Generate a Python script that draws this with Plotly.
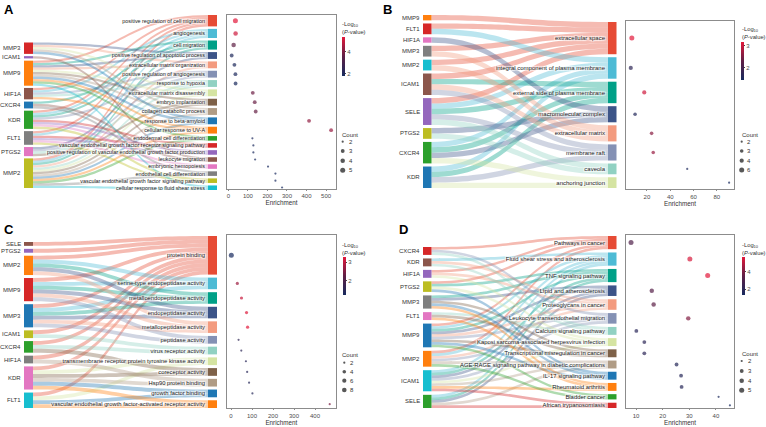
import math
import plotly.graph_objects as go

W, H = 766, 427
FONT = "Liberation Sans, Arial, sans-serif"

TERM_COLORS = ["#E64B35", "#4DBBD5", "#00A087", "#3C5488", "#F39B7F", "#8491B4", "#91D1C2",
               "#D5E4A2", "#7E6148", "#B09C85", "#1F77B4", "#FF7F0E", "#2CA02C", "#D62728",
               "#9467BD", "#8C564B", "#E377C2", "#7F7F7F", "#BCBD22", "#17BECF"]
COLORSCALE = [[0, "#172a5e"], [0.5, "#5e1f45"], [1, "#e3183b"]]

# ---------------- Panel A (GO biological process) ----------------
A_genes = ["MMP3", "ICAM1", "MMP9", "HIF1A", "CXCR4", "KDR", "FLT1", "PTGS2", "MMP2"]
A_gene_colors = ["#D62728", "#9467BD", "#FF7F0E", "#8C564B", "#1F77B4", "#2CA02C", "#7F7F7F", "#E377C2", "#BCBD22"]
A_terms = ["positive regulation of cell migration", "angiogenesis", "cell migration",
           "positive regulation of apoptotic process", "extracellular matrix organization",
           "positive regulation of angiogenesis", "response to hypoxia",
           "extracellular matrix disassembly", "embryo implantation", "collagen catabolic process",
           "response to beta-amyloid", "cellular response to UV-A", "endodermal cell differentiation",
           "vascular endothelial growth factor receptor signaling pathway",
           "positive regulation of vascular endothelial growth factor production",
           "leukocyte migration", "embryonic hemopoiesis", "endothelial cell differentiation",
           "vascular endothelial growth factor signaling pathway",
           "cellular response to fluid shear stress"]
A_members = [["MMP9", "HIF1A", "KDR", "FLT1", "MMP2"], ["HIF1A", "KDR", "FLT1", "MMP2"],
             ["MMP9", "CXCR4", "KDR", "MMP2"], ["MMP3", "MMP9", "PTGS2"], ["MMP3", "MMP9", "MMP2"],
             ["HIF1A", "KDR", "PTGS2"], ["HIF1A", "PTGS2", "MMP2"], ["MMP3", "MMP9", "MMP2"],
             ["MMP9", "PTGS2", "MMP2"], ["MMP3", "MMP9", "MMP2"], ["MMP3", "MMP9", "MMP2"],
             ["HIF1A", "MMP9", "MMP2"], ["MMP9", "MMP2"], ["KDR", "FLT1"], ["KDR", "FLT1"],
             ["ICAM1", "CXCR4"], ["KDR", "FLT1"], ["CXCR4", "MMP2"], ["KDR", "FLT1"], ["MMP9", "MMP2"]]
A_enrich = [36, 37, 27, 17, 31, 36, 37, 125, 135, 140, 413, 526, 123, 128, 128, 137, 203, 241, 241, 275]
A_logp = [5.4, 5.1, 3.6, 2.05, 2.0, 1.95, 1.9, 3.8, 3.75, 3.7, 4.3, 4.4, 1.95, 1.9, 1.9, 1.9, 1.85, 1.85, 1.85, 1.82]
A_ticks = [0, 100, 200, 300, 400, 500]
A_cticks = [2, 4]
A_legend = [2, 3, 4, 5]

# ---------------- Panel B (GO cellular component) ----------------
B_genes = ["MMP9", "FLT1", "HIF1A", "MMP3", "MMP2", "ICAM1", "SELE", "PTGS2", "CXCR4", "KDR"]
B_gene_colors = ["#FF7F0E", "#D62728", "#E377C2", "#7F7F7F", "#17BECF", "#8C564B", "#9467BD", "#BCBD22", "#2CA02C", "#1F77B4"]
B_terms = ["extracellular space", "integral component of plasma membrane",
           "external side of plasma membrane", "macromolecular complex", "extracellular matrix",
           "membrane raft", "caveola", "anchoring junction"]
B_members = [["MMP9", "FLT1", "MMP3", "MMP2", "ICAM1", "SELE"], ["FLT1", "SELE", "CXCR4", "KDR"],
             ["ICAM1", "SELE", "CXCR4", "KDR"], ["HIF1A", "PTGS2", "CXCR4"], ["MMP3", "MMP2", "ICAM1"],
             ["ICAM1", "SELE", "KDR"], ["SELE", "PTGS2"], ["CXCR4", "KDR"]]
B_enrich = [7, 6.1, 17.7, 9.8, 24, 25.4, 54.6, 90.6]
B_logp = [3.18, 1.75, 3.05, 1.6, 2.6, 2.7, 1.55, 1.47]
B_ticks = [20, 40, 60, 80]
B_cticks = [2, 3]
B_legend = [2, 3, 4, 6]

# ---------------- Panel C (GO molecular function) ----------------
C_genes = ["SELE", "PTGS2", "MMP2", "MMP9", "MMP3", "ICAM1", "CXCR4", "HIF1A", "KDR", "FLT1"]
C_gene_colors = ["#8C564B", "#9467BD", "#FF7F0E", "#D62728", "#1F77B4", "#BCBD22", "#2CA02C", "#7F7F7F", "#E377C2", "#17BECF"]
C_terms = ["protein binding", "serine-type endopeptidase activity", "metalloendopeptidase activity",
           "endopeptidase activity", "metallopeptidase activity", "peptidase activity",
           "virus receptor activity", "transmembrane receptor protein tyrosine kinase activity",
           "coreceptor activity", "Hsp90 protein binding", "growth factor binding",
           "vascular endothelial growth factor-activated receptor activity"]
C_members = [["SELE", "PTGS2", "MMP2", "MMP9", "MMP3", "ICAM1", "CXCR4", "HIF1A", "KDR", "FLT1"],
             ["MMP2", "MMP9", "MMP3"], ["MMP2", "MMP9", "MMP3"], ["MMP2", "MMP9", "MMP3"],
             ["MMP2", "MMP9", "MMP3"], ["MMP9", "MMP3"], ["ICAM1", "CXCR4"], ["KDR", "FLT1"],
             ["CXCR4", "KDR"], ["HIF1A", "KDR"], ["KDR", "FLT1"], ["KDR", "FLT1"]]
C_enrich = [1.5, 30, 50, 74, 79, 36, 49, 71, 77, 86, 102, 470]
C_logp = [1.25, 2.75, 3.1, 3.25, 3.3, 1.6, 1.55, 1.5, 1.5, 1.45, 1.45, 2.5]
C_ticks = [0, 100, 200, 300, 400]
C_cticks = [2, 3]
C_legend = [2, 4, 6, 8]

# ---------------- Panel D (KEGG) ----------------
D_genes = ["CXCR4", "KDR", "HIF1A", "PTGS2", "MMP3", "FLT1", "MMP9", "MMP2", "ICAM1", "SELE"]
D_gene_colors = ["#D62728", "#8C564B", "#9467BD", "#BCBD22", "#7F7F7F", "#E377C2", "#1F77B4", "#FF7F0E", "#17BECF", "#2CA02C"]
D_terms = ["Pathways in cancer", "Fluid shear stress and atherosclerosis", "TNF signaling pathway",
           "Lipid and atherosclerosis", "Proteoglycans in cancer",
           "Leukocyte transendothelial migration", "Calcium signaling pathway",
           "Kaposi sarcoma-associated herpesvirus infection",
           "Transcriptional misregulation in cancer",
           "AGE-RAGE signaling pathway in diabetic complications", "IL-17 signaling pathway",
           "Rheumatoid arthritis", "Bladder cancer", "African trypanosomiasis"]
D_members = [["CXCR4", "HIF1A", "PTGS2", "MMP9", "MMP2"], ["KDR", "MMP9", "MMP2", "ICAM1", "SELE"],
             ["PTGS2", "MMP3", "MMP9", "ICAM1", "SELE"], ["MMP3", "MMP9", "ICAM1", "SELE"],
             ["KDR", "HIF1A", "MMP9", "MMP2"], ["CXCR4", "MMP9", "MMP2", "ICAM1"],
             ["CXCR4", "KDR", "FLT1"], ["HIF1A", "PTGS2", "ICAM1"], ["MMP3", "FLT1", "MMP9"],
             ["MMP2", "ICAM1", "SELE"], ["PTGS2", "MMP3", "MMP9"], ["MMP3", "FLT1", "ICAM1"],
             ["MMP9", "MMP2"], ["ICAM1", "SELE"]]
D_enrich = [8.1, 30.2, 36.9, 15.9, 16.6, 29.6, 10.1, 13.1, 13.1, 25.2, 26.9, 27.1, 41, 45.25]
D_logp = [3.1, 5.5, 5.7, 3.3, 3.45, 4.1, 1.9, 2.0, 2.0, 1.8, 1.85, 1.85, 1.5, 1.36]
D_ticks = [10, 20, 30, 40]
D_cticks = [2, 4]
D_legend = [2, 3, 4, 5]

# ---------------- geometry (pixels) ----------------
GEO = {
    "A": dict(gx=24, tx=217, th=9, t_span=(15, 190), g_span=(42.5, 188), tgap=2.5, tfs=5.4,
              box=(227, 336, 15, 188.5), xr=(-7, 551), cb=(341.7, 36.7, 39.3), cbt=(339.5, 19),
              leg=(340, 135, 342.7, [141.7, 151, 160.7, 170.3], 347), letter=(2, 0)),
    "B": dict(gx=423, tx=616.5, th=8.5, t_span=(22, 188), g_span=(15, 188), tgap=3, tfs=6.0,
              box=(626, 734, 21, 189), xr=(2.0, 94.8), cb=(740.7, 41.7, 37.7), cbt=(739.5, 24),
              leg=(740, 135, 741.7, [141.7, 151, 160.7, 170], 745.3), letter=(381, 0)),
    "C": dict(gx=24, tx=217, th=9, t_span=(236, 408), g_span=(242, 408), tgap=3, tfs=5.8,
              box=(226.7, 336, 235, 408), xr=(-20.5, 500), cb=(342.7, 256.7, 38.3), cbt=(339.5, 240),
              leg=(340, 355, 344.3, [362.7, 371.7, 380.7, 390], 348), letter=(2, 220)),
    "D": dict(gx=423, tx=616.5, th=8.5, t_span=(236, 408), g_span=(247, 408), tgap=3.3, tfs=5.9,
              box=(625.7, 734.3, 235, 408), xr=(6.1, 46.9), cb=(741.7, 256.7, 38.3), cbt=(739.5, 240.5),
              leg=(740, 354.3, 741.7, [361, 371, 380.7, 390.3], 745.7), letter=(397, 220)),
}

PANELS = [
    ("A", A_genes, A_gene_colors, A_terms, A_members, A_enrich, A_logp, A_ticks, A_cticks, A_legend),
    ("B", B_genes, B_gene_colors, B_terms, B_members, B_enrich, B_logp, B_ticks, B_cticks, B_legend),
    ("C", C_genes, C_gene_colors, C_terms, C_members, C_enrich, C_logp, C_ticks, C_cticks, C_legend),
    ("D", D_genes, D_gene_colors, D_terms, D_members, D_enrich, D_logp, D_ticks, D_cticks, D_legend),
]


def rgba(hexc, a):
    hexc = hexc.lstrip("#")
    r, g, b = int(hexc[0:2], 16), int(hexc[2:4], 16), int(hexc[4:6], 16)
    return f"rgba({r},{g},{b},{a})"


def stack(values, ky, top, bottom=None, gap=None):
    hs = [v * ky for v in values]
    n = len(hs)
    if gap is None:
        gap = (bottom - top - sum(hs)) / (n - 1) if n > 1 else 0.0
    centers, y = [], top
    for h in hs:
        centers.append(y + h / 2)
        y += h + gap
    return centers


def px(x):
    return x / W


def py(y):
    return 1 - y / H


fig = go.Figure()
annotations = []
layout_axes = {}

for idx, (name, genes, gcols, terms, members, enrich, logp, ticks, cticks, legvals) in enumerate(PANELS, start=1):
    g = GEO[name]
    nG, nT = len(genes), len(terms)
    tcount = [len(m) for m in members]
    gcount = [sum(gn in m for m in members) for gn in genes]
    total = sum(tcount)
    t0, t1 = g["t_span"]
    g0, g1 = g["g_span"]
    ky = (t1 - t0 - (nT - 1) * g["tgap"]) / total
    tc = stack(tcount, ky, t0, gap=g["tgap"])
    gc = stack(gcount, ky, g0, bottom=g1)
    Dtop, Dbot = min(t0, g0), max(t1, g1)
    Hd = Dbot - Dtop
    pad = (Hd - ky * total) / (max(nG, nT) - 1)
    Wd = g["tx"] - g["gx"]
    th = g["th"]
    node_x = [th / 2 / Wd] * nG + [1 - th / 2 / Wd] * nT
    node_y = [(c - Dtop) / Hd for c in gc + tc]

    src, tgt, lcol = [], [], []
    for j, m in enumerate(members):
        for gn in m:
            src.append(genes.index(gn))
            tgt.append(nG + j)
            lcol.append(rgba(TERM_COLORS[j], 0.38))

    fig.add_trace(go.Sankey(
        domain=dict(x=[px(g["gx"]), px(g["tx"])], y=[py(Dbot), py(Dtop)]),
        arrangement="fixed",
        hoverinfo="none",
        textfont=dict(family=FONT, size=g["tfs"], color="#1a1a1a"),
        node=dict(label=[""] * nG + terms, color=gcols + TERM_COLORS[:nT], x=node_x, y=node_y,
                  pad=pad, thickness=th, line=dict(width=0), hoverinfo="none"),
        link=dict(source=src, target=tgt, value=[1] * len(src), color=lcol, hoverinfo="none"),
    ))

    # gene labels on the left of the gene nodes
    for gn, c in zip(genes, gc):
        annotations.append(dict(text=gn, x=px(g["gx"] - 1), y=py(c), xref="paper", yref="paper",
                                xanchor="right", yanchor="middle", showarrow=False,
                                font=dict(family=FONT, size=6, color="#333333")))

    # dot plot
    lo, hi = min(tcount), max(tcount)

    def sz(c, lo=lo, hi=hi):
        return 2.2 + (5.0 - 2.2) * math.sqrt(max(c - lo, 0) / (hi - lo))

    cbx, cby, cbl = g["cb"]
    fig.add_trace(go.Scatter(
        x=enrich, y=tc, mode="markers", xaxis=f"x{idx}", yaxis=f"y{idx}", hoverinfo="skip",
        showlegend=False,
        marker=dict(size=[sz(c) for c in tcount], color=logp, colorscale=COLORSCALE,
                    cmin=min(logp), cmax=max(logp), line=dict(width=0), showscale=True,
                    colorbar=dict(x=px(cbx), xanchor="left", y=py(cby), yanchor="top",
                                  len=cbl, lenmode="pixels", thickness=2.8, thicknessmode="pixels",
                                  xpad=0, ypad=0, outlinewidth=0, tickvals=cticks,
                                  ticks="outside", ticklen=1.5, tickwidth=0.6, tickcolor="#444444",
                                  tickfont=dict(family=FONT, size=6, color="#4d4d4d"))),
    ))

    L, R, T, B = g["box"]
    layout_axes[f"xaxis{idx}"] = dict(
        domain=[px(L), px(R)], anchor=f"y{idx}", range=list(g["xr"]), tickvals=ticks,
        showline=True, mirror=True, linecolor="#8c8c8c", linewidth=0.8, ticks="outside",
        ticklen=1.5, tickwidth=0.6, tickcolor="#8c8c8c", showgrid=False, zeroline=False,
        automargin=False,
        tickfont=dict(family=FONT, size=6, color="#4d4d4d"),
        title=dict(text="Enrichment", font=dict(family=FONT, size=6.3, color="#333333"), standoff=2))
    layout_axes[f"yaxis{idx}"] = dict(
        domain=[py(B), py(T)], anchor=f"x{idx}", range=[B, T], showline=True, mirror=True,
        linecolor="#8c8c8c", linewidth=0.8, showticklabels=False, ticks="", showgrid=False,
        zeroline=False, automargin=False)

    # colour bar title
    tx_, ty_ = g["cbt"]
    annotations.append(dict(text="-Log<sub>10</sub><br>(<i>P</i>-value)", x=px(tx_), y=py(ty_),
                            xref="paper", yref="paper", xanchor="left", yanchor="top", align="left",
                            showarrow=False, font=dict(family=FONT, size=5.8, color="#333333")))

    # size legend
    lt_x, lt_y, lm_x, lys, ll_x = g["leg"]
    annotations.append(dict(text="Count", x=px(lt_x), y=py(lt_y), xref="paper", yref="paper",
                            xanchor="left", yanchor="middle", showarrow=False,
                            font=dict(family=FONT, size=6, color="#333333")))
    fig.add_trace(go.Scatter(
        x=[lm_x] * len(legvals), y=lys, mode="markers", xaxis="x5", yaxis="y5", hoverinfo="skip",
        showlegend=False, marker=dict(size=[sz(v) for v in legvals], color="#111111", line=dict(width=0))))
    for v, yy in zip(legvals, lys):
        annotations.append(dict(text=str(v), x=px(ll_x), y=py(yy), xref="paper", yref="paper",
                                xanchor="left", yanchor="middle", showarrow=False,
                                font=dict(family=FONT, size=6, color="#333333")))

    # panel letter
    lx, ly = g["letter"]
    annotations.append(dict(text=f"<b>{name}</b>", x=px(lx), y=py(ly), xref="paper", yref="paper",
                            xanchor="left", yanchor="top", showarrow=False,
                            font=dict(family=FONT, size=13, color="#000000")))

layout_axes["xaxis5"] = dict(domain=[0, 1], range=[0, W], visible=False, fixedrange=True)
layout_axes["yaxis5"] = dict(domain=[0, 1], range=[H, 0], visible=False, fixedrange=True, anchor="x5")

fig.update_layout(
    width=W, height=H, margin=dict(l=0, r=0, t=0, b=0, pad=0, autoexpand=False),
    paper_bgcolor="white", plot_bgcolor="rgba(0,0,0,0)",
    font=dict(family=FONT, size=6, color="#333333"),
    showlegend=False, annotations=annotations, **layout_axes)

# the page's default body margin would offset the figure; remove it
fig.write_html("out.html", config={"displayModeBar": False},
               post_script="document.body.style.margin='0px';document.body.style.padding='0px';")
